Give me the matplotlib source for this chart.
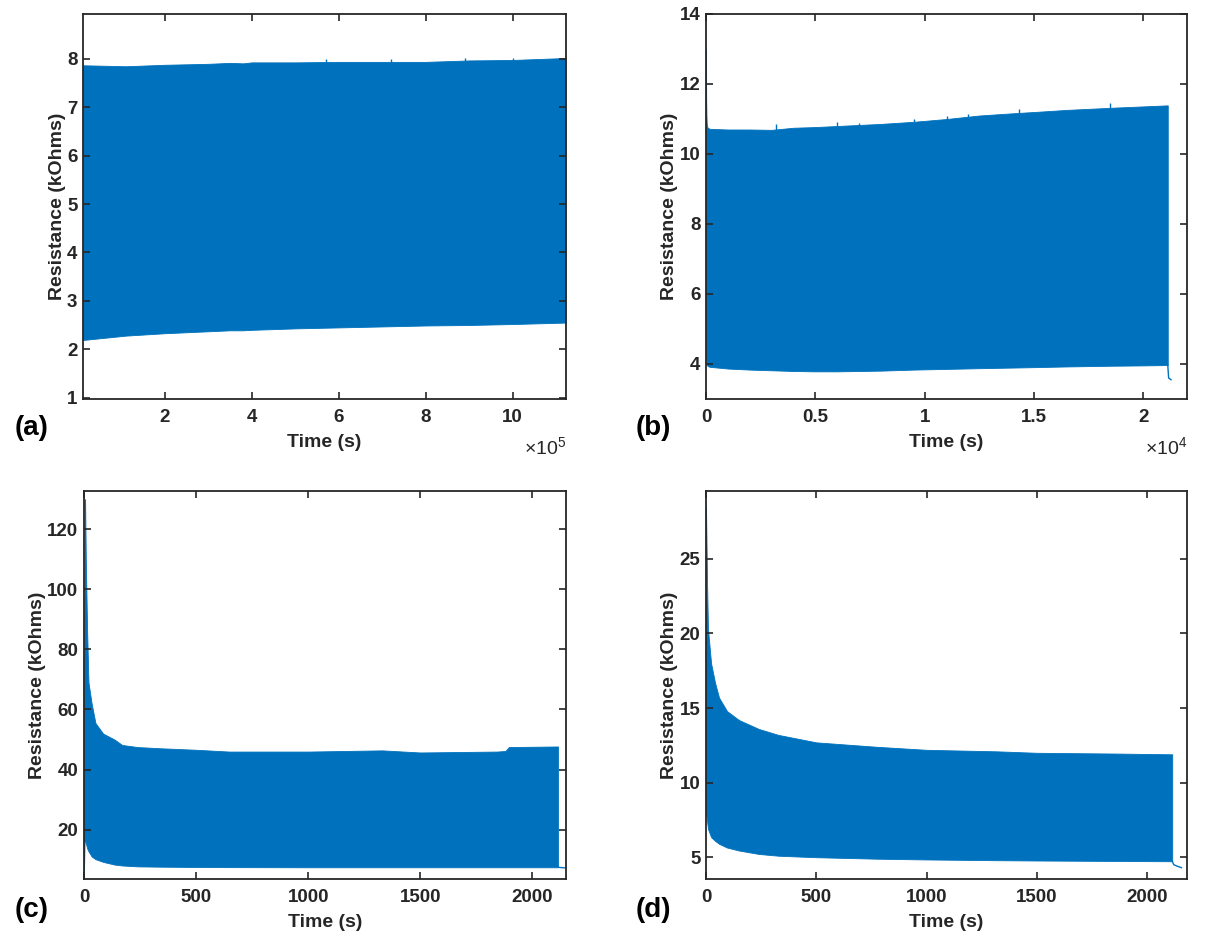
import matplotlib
matplotlib.use("Agg")
import matplotlib.pyplot as plt
from matplotlib.ticker import FixedLocator, FixedFormatter

plt.rcParams['font.family'] = ['Liberation Sans', 'DejaVu Sans']
plt.rcParams['mathtext.fontset'] = 'custom'
plt.rcParams['mathtext.rm'] = 'Liberation Sans'
plt.rcParams['mathtext.it'] = 'Liberation Sans'
plt.rcParams['mathtext.bf'] = 'Liberation Sans:bold'

BLUE = '#0072BD'
AXC = '#262626'

# ---------------- Panel (a) ----------------
a_t = [1.15e4, 1.1e5, 2e5, 3e5, 3.5e5, 3.8e5, 4e5, 5e5, 6e5, 7e5, 8e5, 9e5, 1.0e6, 1.122e6]
a_upper = [7.87, 7.85, 7.88, 7.90, 7.92, 7.91, 7.93, 7.93, 7.94, 7.94, 7.94, 7.97, 7.98, 8.02]
a_lower = [2.19, 2.28, 2.33, 2.37, 2.39, 2.39, 2.40, 2.43, 2.45, 2.47, 2.49, 2.50, 2.52, 2.55]
a_spike_t = [5.7e5, 7.2e5, 8.9e5, 1.0e6]
a_spike_r = [8.00, 8.00, 8.02, 8.01]
a_end_t = [1.1225e6, 1.1225e6]
a_end_r = [0.97, 8.93]
a_xticks = [2e5, 4e5, 6e5, 8e5, 10e5]
a_xticklabels = ['2', '4', '6', '8', '10']
a_yticks = [1, 2, 3, 4, 5, 6, 7, 8]

# ---------------- Panel (b) ----------------
b_t = [0, 8, 20, 35, 66, 160, 1000, 2000, 3000, 4000, 5000, 6000, 7000, 8000,
       9500, 11000, 12500, 14200, 15000, 16500, 18500, 20000, 21120]
b_upper = [13.0, 11.57, 11.1, 10.86, 10.76, 10.72, 10.70, 10.70, 10.69, 10.75, 10.77,
           10.80, 10.83, 10.86, 10.92, 11.0, 11.1, 11.17, 11.2, 11.26, 11.32, 11.36, 11.39]
b_lower = [4.63, 4.3, 4.06, 3.98, 3.95, 3.92, 3.87, 3.84, 3.82, 3.80, 3.79, 3.79, 3.80,
           3.81, 3.84, 3.86, 3.88, 3.90, 3.91, 3.93, 3.95, 3.96, 3.97]
b_spike_t = [3200, 6000, 7000, 9500, 11000, 12000, 14300, 18500]
b_spike_r = [10.85, 10.92, 10.90, 11.0, 11.1, 11.15, 11.3, 11.45]
b_tail_t = [21120, 21160, 21270]
b_tail_r = [3.97, 3.6, 3.55]
b_xticks = [0, 5000, 10000, 15000, 20000]
b_xticklabels = ['0', '0.5', '1', '1.5', '2']
b_yticks = [4, 6, 8, 10, 12, 14]

# ---------------- Panel (c) ----------------
c_t = [0, 3, 5, 8, 14, 20, 34, 51, 85, 136, 170, 239, 341, 500, 648, 1000,
       1330, 1500, 1841, 1880, 1895, 2114]
c_upper = [20, 130, 129, 110, 86, 69, 62, 55.5, 52, 50, 48.2, 47.5, 47.1, 46.6, 46.0,
           46.0, 46.4, 45.7, 46.0, 46.2, 47.5, 47.7]
c_lower = [6, 17.5, 16.5, 15.6, 13.8, 12.8, 11.1, 10.2, 9.3, 8.4, 8.1, 7.8, 7.7, 7.6,
           7.55, 7.5, 7.5, 7.5, 7.5, 7.5, 7.5, 7.5]
c_tail_t = [2114, 2145]
c_tail_r = [7.5, 7.3]
c_xticks = [0, 500, 1000, 1500, 2000]
c_yticks = [20, 40, 60, 80, 100, 120]

# ---------------- Panel (d) ----------------
d_t = [0, 5, 9, 23, 41, 59, 95, 149, 239, 328, 500, 777, 1000, 1315, 1500, 1853, 2113]
d_upper = [28.5, 23.2, 20.3, 18.0, 16.7, 15.7, 14.8, 14.2, 13.6, 13.2, 12.7, 12.4,
           12.2, 12.1, 12.0, 11.95, 11.9]
d_lower = [8.0, 7.4, 6.9, 6.35, 6.1, 5.9, 5.65, 5.45, 5.22, 5.1, 5.0, 4.9, 4.85,
           4.8, 4.78, 4.75, 4.73]
d_tail_t = [2113, 2120, 2135, 2155]
d_tail_r = [4.73, 4.5, 4.4, 4.3]
d_xticks = [0, 500, 1000, 1500, 2000]
d_yticks = [5, 10, 15, 20, 25]

W, H = 1221, 933
fig = plt.figure(figsize=(W / 100, H / 100), dpi=100)


def make_axes(l, r, t, b):
    return fig.add_axes([l / W, 1 - b / H, (r - l) / W, (b - t) / H])


def style(ax, xlim, ylim, xticks, yticks, xticklabels=None):
    ax.set_xlim(*xlim)
    ax.set_ylim(*ylim)
    ax.xaxis.set_major_locator(FixedLocator(xticks))
    ax.yaxis.set_major_locator(FixedLocator(yticks))
    if xticklabels is None:
        xticklabels = [str(int(v)) for v in xticks]
    ax.xaxis.set_major_formatter(FixedFormatter(xticklabels))
    ax.yaxis.set_major_formatter(FixedFormatter([str(v) for v in yticks]))
    ax.tick_params(direction='in', top=True, right=True, length=5, width=1.2,
                   color=AXC, labelsize=13.5, labelcolor=AXC)
    ax.tick_params(axis='x', pad=7)
    ax.tick_params(axis='y', pad=4)
    for lab in ax.get_xticklabels() + ax.get_yticklabels():
        lab.set_fontweight('bold')
    for s in ax.spines.values():
        s.set_linewidth(1.3)
        s.set_color(AXC)
    ax.set_xlabel('Time (s)', fontsize=14, fontweight='bold', color=AXC, labelpad=6)
    ax.set_ylabel('Resistance (kOhms)', fontsize=14, fontweight='bold', color=AXC, labelpad=1)


# (a)
axa = make_axes(83, 566, 14, 399)
axa.fill_between(a_t, a_lower, a_upper, color=BLUE, lw=0.6, edgecolor=BLUE)
axa.vlines(a_spike_t, 5, a_spike_r, color=BLUE, lw=1)
axa.plot(a_end_t, a_end_r, color=BLUE, lw=1)
style(axa, (1.15e4, 1.123e6), (0.97, 8.93), a_xticks, a_yticks, a_xticklabels)
axa.text(1.0, -0.125, r'$\times$10$^{5}$', transform=axa.transAxes, ha='right',
         va='center', fontsize=14, color=AXC)

# (b)
axb = make_axes(706, 1187, 14, 399)
axb.fill_between(b_t, b_lower, b_upper, color=BLUE, lw=0.6, edgecolor=BLUE)
axb.vlines(b_spike_t, 5, b_spike_r, color=BLUE, lw=1)
axb.plot(b_tail_t, b_tail_r, color=BLUE, lw=1)
style(axb, (0, 2.2e4), (3, 14), b_xticks, b_yticks, b_xticklabels)
axb.text(1.0, -0.125, r'$\times$10$^{4}$', transform=axb.transAxes, ha='right',
         va='center', fontsize=14, color=AXC)

# (c)
axc = make_axes(84, 566, 491, 879)
axc.fill_between(c_t, c_lower, c_upper, color=BLUE, lw=0.6, edgecolor=BLUE)
axc.plot(c_tail_t, c_tail_r, color=BLUE, lw=1)
style(axc, (0, 2150), (3.6, 132.7), c_xticks, c_yticks)

# (d)
axd = make_axes(706, 1187, 491, 879)
axd.fill_between(d_t, d_lower, d_upper, color=BLUE, lw=0.6, edgecolor=BLUE)
axd.plot(d_tail_t, d_tail_r, color=BLUE, lw=1)
style(axd, (0, 2180), (3.54, 29.55), d_xticks, d_yticks)

# panel letters
for lab, x, y in [('(a)', 32, 428), ('(b)', 653, 428), ('(c)', 32, 910), ('(d)', 653, 910)]:
    fig.text(x / W, 1 - y / H, lab, fontsize=20, fontweight='bold', ha='center',
             va='center', color='black')

fig.savefig('out.png', dpi=100)
